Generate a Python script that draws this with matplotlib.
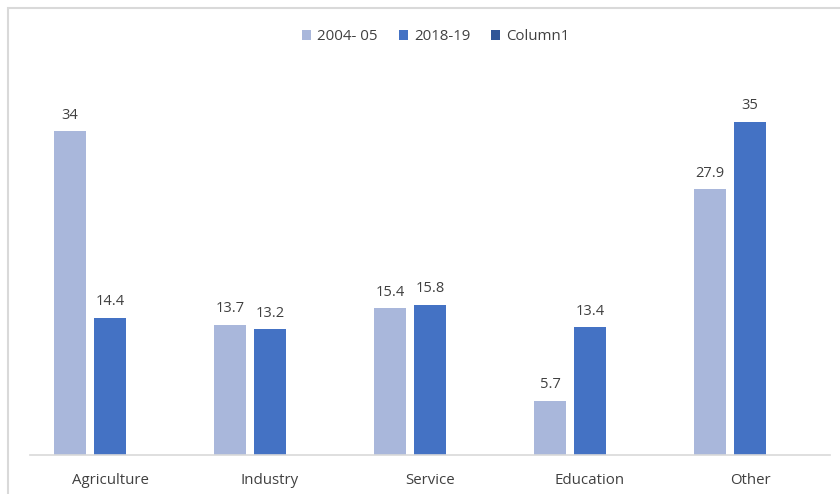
import matplotlib
matplotlib.use('agg')
import matplotlib.pyplot as plt
from matplotlib.patches import Rectangle
import numpy as np

categories = ["Agriculture", "Industry", "Service", "Education", "Other"]
series_names = ["2004- 05", "2018-19", "Column1"]
vals_2004 = [34, 13.7, 15.4, 5.7, 27.9]
vals_2018 = [14.4, 13.2, 15.8, 13.4, 35]
vals_col1 = [None, None, None, None, None]

colors = ["#A9B7DB", "#4472C4", "#2F5597"]

plt.rcParams['font.family'] = ['Open Sans', 'DejaVu Sans']

fig = plt.figure(figsize=(8.4, 4.94), dpi=100)
ax = fig.add_axes([30/840, 39/494, 800/840, 381/494])

x = np.arange(len(categories))
w = 0.2
step = 0.25
for i, (vals, c, name) in enumerate(zip([vals_2004, vals_2018, vals_col1], colors, series_names)):
    hs = [v if v is not None else 0 for v in vals]
    bars = ax.bar(x + (i - 1) * step, hs, width=w, color=c, label=name)
    for b, v in zip(bars, vals):
        if v is None:
            continue
        ax.text(b.get_x() + b.get_width() / 2, v + 0.9, f"{v:g}", ha='center', va='bottom',
                fontsize=10.5, color="#404040")

ax.set_xlim(-0.5, len(categories) - 0.5)
ax.set_ylim(0, 40)
ax.set_yticks([])
ax.set_xticks(x)
ax.set_xticklabels(categories, fontsize=10.8, color="#404040")
ax.tick_params(axis='x', length=0, pad=13)
for s in ['top', 'left', 'right']:
    ax.spines[s].set_visible(False)
ax.spines['bottom'].set_color("#D9D9D9")
ax.spines['bottom'].set_linewidth(1.2)

leg = fig.legend(loc='center', bbox_to_anchor=(436/840, 1 - 37/494), ncol=3, frameon=False,
                 fontsize=10.8, handlelength=0.6, handleheight=0.6, handletextpad=0.4,
                 columnspacing=1.4)
for t in leg.get_texts():
    t.set_color("#404040")

# chart border
fig.patches.append(Rectangle((8/840, -0.05), 1.0, 1 - 8/494 + 0.05, transform=fig.transFigure,
                             fill=False, edgecolor="#D9D9D9", linewidth=1.5))

fig.savefig("out.png", dpi=100)
